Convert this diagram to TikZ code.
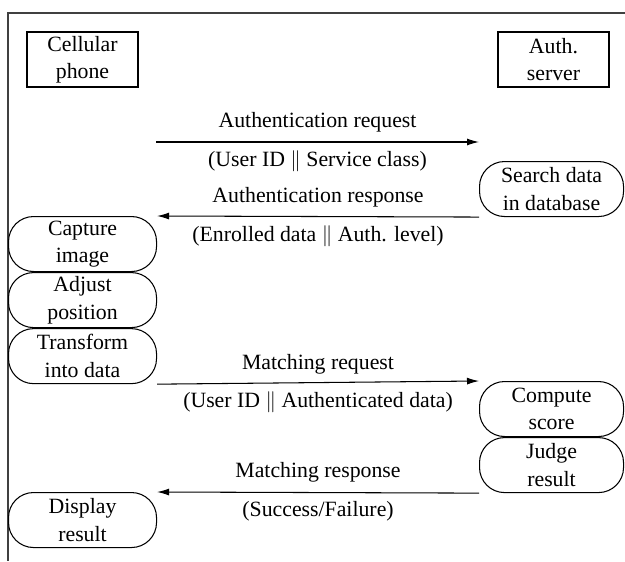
\documentclass[tikz,border=0pt]{standalone}
\usepackage{fontspec}
\setmainfont{Liberation Serif}
\usepackage{tikz}
\usetikzlibrary{arrows.meta,positioning}
\tikzset{>={Latex[length=2.4mm,width=1.4mm]}}
\tikzset{
  party/.style={draw, minimum width=2.22cm, minimum height=1.1cm, align=center, inner sep=0pt},
  task/.style={draw, rounded corners=0.5cm, minimum height=1.1cm, align=center, inner sep=0pt},
  phonetask/.style={task, minimum width=2.96cm},
  servtask/.style={task, minimum width=2.88cm},
}

\begin{document}
\begin{tikzpicture}[font=\rmfamily\fontsize{12.4}{15.6}\selectfont, line width=0.6pt]
    \useasboundingbox (0,0) rectangle (12.5,11.22);
    \draw [black!75] (12.5,10.96) -- (0.16,10.96) -- (0.16,0);
    % the two parties
    \node [party] (phone) at (1.65,10.03) {Cellular\\phone};
    \node [party] (server) at (11.07,10.03) {Auth.\\server};
    % steps on each side
    \node [servtask, anchor=north west] (search) at (9.58,8.0) {Search data\\in database};
    \node [phonetask, anchor=north west] (capture) at (0.16,6.9) {Capture\\image};
    \node [phonetask, below=0pt of capture] (adjust) {Adjust\\position};
    \node [phonetask, below=0pt of adjust] (transform) {Transform\\into data};
    \node [servtask, anchor=north west] (compute) at (9.58,3.6) {Compute\\score};
    \node [servtask, below=0pt of compute] (judge) {Judge\\result};
    \node [phonetask, anchor=north west] (display) at (0.16,1.38) {Display\\result};
    % messages
    \coordinate (reqtail) at (3.12,8.38);
    \coordinate (reqhead) at (9.58,8.38);
    \draw [->] (reqtail) -- (reqhead)
      node [midway, yshift=0.4cm] {Authentication request}
      node [midway, yshift=-0.39cm] {(User ID $\|$ Service class)};
    \draw [->] (search.south west) -- (capture.north east)
      node [midway, yshift=0.39cm] {Authentication response}
      node [midway, yshift=-0.39cm] {(Enrolled data $\|$ Auth. level)};
    \draw [->] (transform.south east) -- (compute.north west)
      node [midway, yshift=0.36cm] {Matching request}
      node [midway, yshift=-0.4cm] {(User ID $\|$ Authenticated data)};
    \draw [->] (judge.south west) -- (display.north east)
      node [midway, yshift=0.4cm] {Matching response}
      node [midway, yshift=-0.37cm] {(Success/Failure)};
\end{tikzpicture}
\end{document}
